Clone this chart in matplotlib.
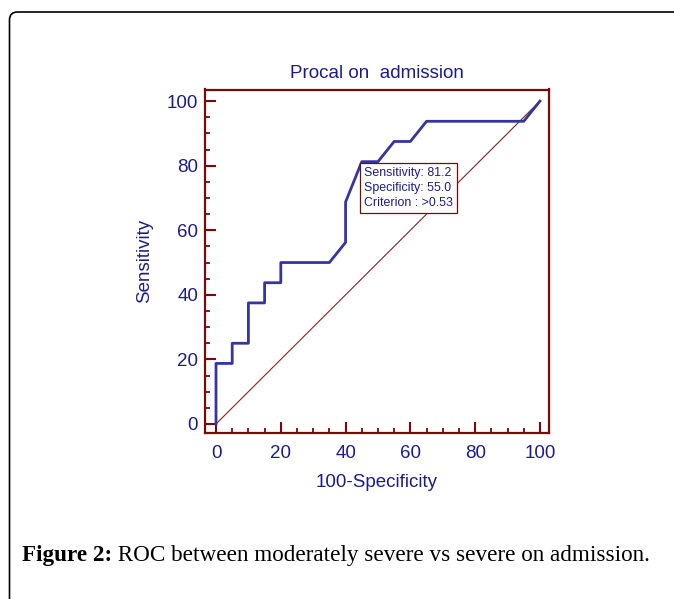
import matplotlib
matplotlib.use("Agg")
import matplotlib.pyplot as plt
from matplotlib.patches import FancyBboxPatch
from matplotlib.transforms import IdentityTransform
from matplotlib.ticker import MultipleLocator

# ROC-Kurve (100-Spezifitaet vs. Sensitivitaet)
fpr = [0, 0, 5, 5, 10, 10, 15, 15, 20, 20, 35, 40, 40, 45, 50, 55, 60, 65, 95, 100]
tpr = [0, 18.75, 18.75, 25, 25, 37.5, 37.5, 43.75, 43.75, 50, 50, 56.25, 68.75,
       81.25, 81.25, 87.5, 87.5, 93.75, 93.75, 100]
ticks = [0, 20, 40, 60, 80, 100]
box_text = "Sensitivity: 81.2\nSpecificity: 55.0\nCriterion : >0.53"
title = "Procal on  admission"
caption_bold = "Figure 2:"
caption_rest = " ROC between moderately severe vs severe on admission."

navy = "#1c1c8c"
blue = "#3434a4"
darkred = "#7a0a0a"

plt.rcParams['font.family'] = ['Liberation Sans', 'DejaVu Sans']

fig = plt.figure(figsize=(6.74, 5.99), dpi=100)
ax = fig.add_axes([205 / 674, 1 - 433 / 599, 344 / 674, 343.5 / 599])

# Diagonale und ROC-Kurve
ax.plot([0, 100], [0, 100], color="#8b2020", lw=0.8)
ax.plot(fpr, tpr, color=blue, lw=2.0)

ax.set_xlim(-3.4, 102.8)
ax.set_ylim(-2.8, 103.6)
ax.set_xticks(ticks)
ax.set_yticks(ticks)
ax.xaxis.set_minor_locator(MultipleLocator(5))
ax.yaxis.set_minor_locator(MultipleLocator(5))
ax.tick_params(which="major", direction="in", length=8, width=1.5, color=darkred,
               labelcolor=navy, labelsize=13.5)
ax.tick_params(which="minor", direction="in", length=3.8, width=1.3, color=darkred)
ax.tick_params(axis="x", which="major", pad=9)
ax.tick_params(axis="y", which="major", pad=5)
for s in ax.spines.values():
    s.set_color(darkred)
    s.set_linewidth(1.6)

ax.set_title(title, color=navy, fontsize=13.5, pad=8)
ax.set_xlabel("100-Specificity", color=navy, fontsize=13.5, labelpad=8)
ax.set_ylabel("Sensitivity", color=navy, fontsize=13.5, labelpad=10)

ax.text(45.7, 79.6, box_text, color=navy, fontsize=8.9, va="top", ha="left",
        linespacing=1.35,
        bbox=dict(boxstyle="square,pad=0.3", fc="white", ec=darkred, lw=0.9))

# Rahmen um die Abbildung
frame = FancyBboxPatch((9.5, -40), 700, 599 - 12 + 40,
                       boxstyle="round,pad=0,rounding_size=8",
                       fc="none", ec="black", lw=1.2,
                       transform=IdentityTransform())
fig.add_artist(frame)

# Bildunterschrift
t1 = fig.text(22 / 674, 1 - 566 / 599, caption_bold, fontsize=16.7,
              fontweight="bold", family="Liberation Serif", va="bottom")
fig.add_artist(matplotlib.text.Annotation(
    caption_rest, xy=(1, 0), xycoords=t1, va="bottom", ha="left",
    fontsize=16.7, family="Liberation Serif"))

fig.savefig("out.png", dpi=100)
